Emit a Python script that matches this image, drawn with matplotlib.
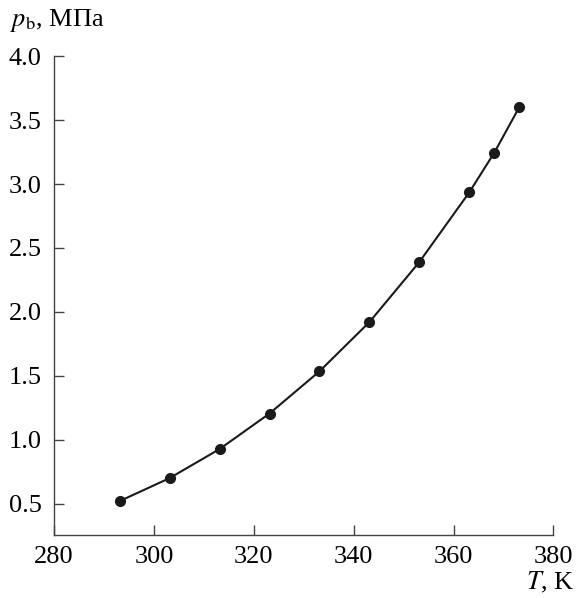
import matplotlib
matplotlib.use("Agg")
import matplotlib.pyplot as plt

# saturation pressure vs temperature
T_K = [293.15, 303.15, 313.15, 323.15, 333.15, 343.15, 353.15, 363.15, 368.15, 373.15]
p_MPa = [0.52, 0.70, 0.927, 1.205, 1.535, 1.92, 2.39, 2.935, 3.245, 3.60]
xticks = [280, 300, 320, 340, 360, 380]
yticks = [0.5, 1.0, 1.5, 2.0, 2.5, 3.0, 3.5, 4.0]

plt.rcParams["font.family"] = ["Liberation Serif", "DejaVu Serif"]
plt.rcParams["mathtext.fontset"] = "stix"

fig = plt.figure(figsize=(5.76, 5.98), dpi=100)
ax = fig.add_axes([0.0938, 0.1054, 0.867, 0.8006])

ax.plot(T_K, p_MPa, color="#1a1a1a", lw=1.5, zorder=2)
ax.plot(T_K, p_MPa, "o", color="#1a1a1a", ms=7, zorder=3)

ax.set_xlim(280, 380)
ax.set_ylim(0.255, 4.0)
ax.set_xticks(xticks)
ax.set_yticks(yticks)
ax.set_yticklabels(["%.1f" % v for v in yticks])
for s in ("top", "right"):
    ax.spines[s].set_visible(False)
for s in ("left", "bottom"):
    ax.spines[s].set_color("#444444")
    ax.spines[s].set_linewidth(1.0)
ax.tick_params(direction="in", length=7, width=1.0, color="#444444",
               labelsize=19, pad=6)
ax.tick_params(axis="x", pad=8)
ax.tick_params(axis="y", pad=9)

fig.text(0.017, 0.965, r"$p_{\mathrm{b}}$, МПа", fontsize=19, va="center", ha="left")
fig.text(0.998, 0.026, r"$T$, K", fontsize=19, va="center", ha="right")

fig.savefig("out.png", dpi=100)
